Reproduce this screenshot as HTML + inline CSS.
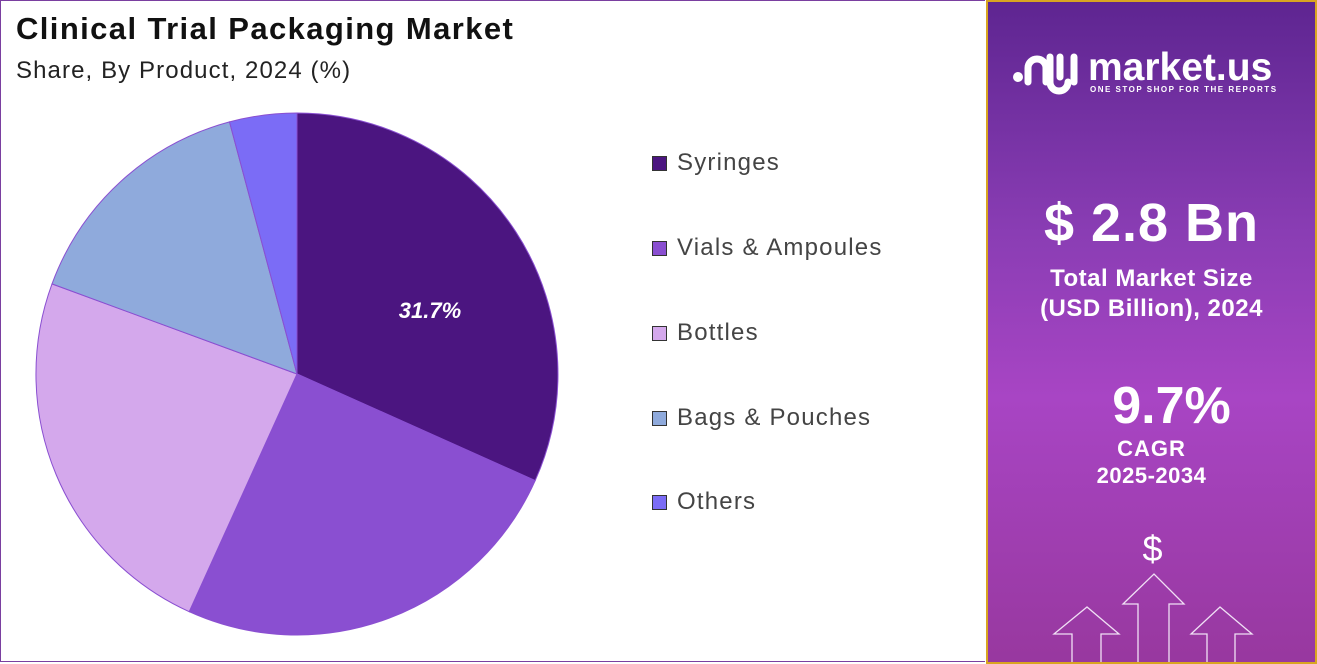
<!DOCTYPE html>
<html><head><meta charset="utf-8"><style>
body{margin:0;width:1317px;height:664px;overflow:hidden;background:#fff;font-family:"Liberation Sans",sans-serif;position:relative}
.frame{position:absolute;left:0;top:0;width:985px;height:662px;border:1px solid #7a3fa0;box-sizing:border-box;border-right:none}
.t1{position:absolute;left:16px;top:11px;font-size:31px;font-weight:bold;color:#111;letter-spacing:1.4px}
.t2{position:absolute;left:16px;top:57px;font-size:24px;color:#222;letter-spacing:1.1px}
.lg{position:absolute;left:652px;font-size:24px;color:#444;letter-spacing:1.2px}
.lg span{display:inline-block;width:15px;height:15px;border:1.5px solid #333;vertical-align:-1px;margin-right:10px;box-sizing:border-box}
.panel{position:absolute;left:986px;top:0;width:331px;height:664px;box-sizing:border-box;border:2px solid #d9a520;background:linear-gradient(180deg,#5e2591 0%,#8a3db4 35%,#a845c4 60%,#98389f 100%);color:#fff;text-align:center;overflow:hidden}
.panel div{position:absolute;width:100%;font-weight:bold}
</style></head><body>
<div class="frame"></div>
<div class="t1">Clinical Trial Packaging Market</div>
<div class="t2">Share, By Product, 2024 (%)</div>
<svg width="985" height="664" style="position:absolute;left:0;top:0">
<g stroke="#8a4fd1" stroke-width="1">
<path d="M297,374 L297,113 A261,261 0 0 1 535.2,480.6 Z" fill="#4b1580"/>
<path d="M297,374 L535.2,480.6 A261,261 0 0 1 189.2,611.7 Z" fill="#8a4fd1"/>
<path d="M297,374 L189.2,611.7 A261,261 0 0 1 52,283.9 Z" fill="#d4a8ec"/>
<path d="M297,374 L52,283.9 A261,261 0 0 1 229.5,121.9 Z" fill="#8faadc"/>
<path d="M297,374 L229.5,121.9 A261,261 0 0 1 297,113 Z" fill="#7b6cf6"/>
</g>
<text x="430" y="318" fill="#fff" font-size="22" font-weight="bold" font-style="italic" text-anchor="middle" font-family="Liberation Sans">31.7%</text>
</svg>
<div class="lg" style="top:149px"><span style="background:#4b1580"></span>Syringes</div>
<div class="lg" style="top:234px"><span style="background:#8a4fd1"></span>Vials &amp; Ampoules</div>
<div class="lg" style="top:319px"><span style="background:#d4a8ec"></span>Bottles</div>
<div class="lg" style="top:404px"><span style="background:#8faadc"></span>Bags &amp; Pouches</div>
<div class="lg" style="top:488px"><span style="background:#7b6cf6"></span>Others</div>
<div class="panel">
<div style="top:44px;left:100px;width:220px;text-align:left;font-size:39px">market.us</div>
<div style="top:83px;left:102px;width:220px;text-align:left;font-size:8px;letter-spacing:1.5px">ONE STOP SHOP FOR THE REPORTS</div>
<svg width="331" height="664" style="position:absolute;left:0;top:0">
<circle cx="30" cy="75" r="5" fill="#fff"/>
<path d="M40,80 V66 a9,9 0 0 1 18,0 V80 M62,55 V80 a9,9 0 0 0 18,0 M72,55 V75 M86,55 V80" stroke="#fff" stroke-width="7" fill="none" stroke-linecap="round"/>
</svg>
<div style="top:190px;left:0;font-size:54px;letter-spacing:1px">$ 2.8 Bn</div>
<div style="top:263px;font-size:24px;letter-spacing:0.5px">Total Market Size</div>
<div style="top:293px;font-size:24px;letter-spacing:0.5px">(USD Billion), 2024</div>
<div style="top:374px;left:20px;font-size:52px">9.7%</div>
<div style="top:434px;font-size:22px;letter-spacing:1px">CAGR</div>
<div style="top:461px;font-size:22px;letter-spacing:0.5px">2025-2034</div>
<div style="top:526px;left:1px;font-size:36px;font-weight:normal">$</div>
<svg width="331" height="664" style="position:absolute;left:0;top:0" fill="none" stroke="#f0e0f5" stroke-width="1.3">
<path d="M84,664 V632 H66 L99,605 L131,632 H113 V664"/>
<path d="M150,664 V602 H135 L166,572 L196,602 H181 V664"/>
<path d="M219,664 V632 H203 L232,605 L264,632 H247 V664"/>
</svg>
</div>
</body></html>
